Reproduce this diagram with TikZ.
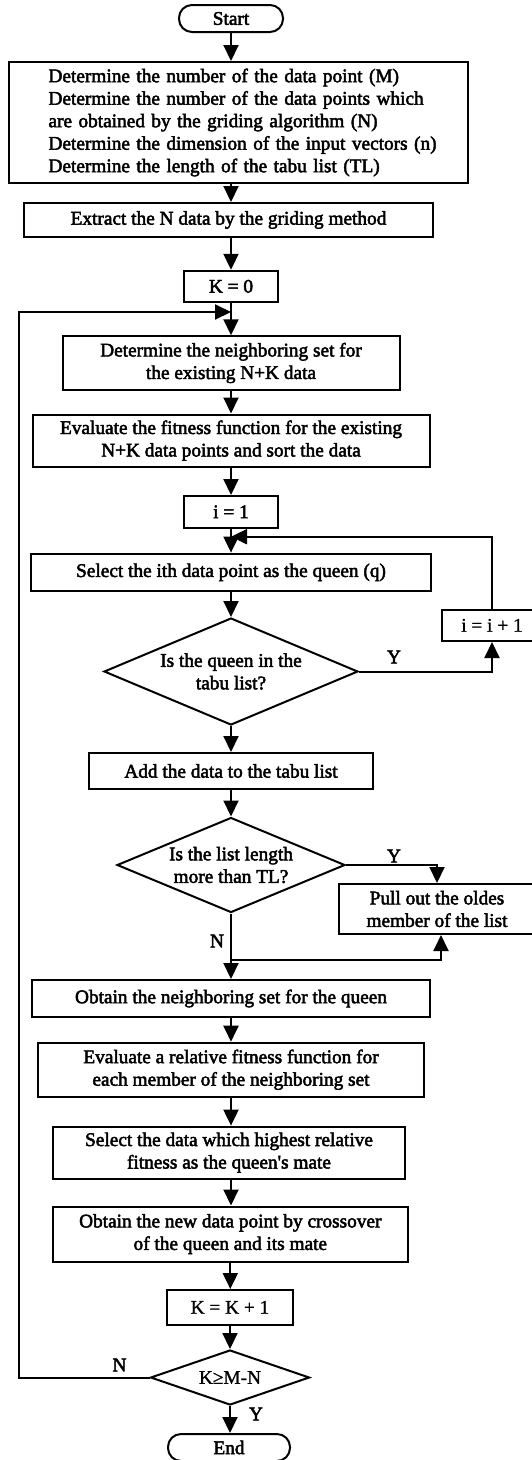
\documentclass[tikz,border=0pt]{standalone}
\usepackage{fontspec}
\setmainfont{Liberation Serif}
\newfontfamily\heavy{Liberation Serif}[FakeBold=2.5]
\newfontfamily\plain{Liberation Serif}[FakeBold=1]
\usetikzlibrary{arrows.meta,shapes.geometric}
\tikzset{
  ln/.style={line width=2pt},
  arr/.style={ln,-{Triangle[length=16pt,width=15pt]}},
  box/.style={draw,line width=2pt,inner sep=0pt,align=center},
  term/.style={box,rounded corners=13pt},
  dia/.style={draw,line width=2pt,diamond,inner sep=0pt,align=center},
  lbl/.style={inner sep=0pt},
}
\begin{document}
\begin{tikzpicture}[x=1pt,y=-1pt,font=\heavy\fontsize{19.3}{22.5}\selectfont]
\useasboundingbox (0,0) rectangle (532,1460);
\clip (0,0) rectangle (532,1460);
\node[term,minimum width=104pt,minimum height=27pt] (start) at (231,18.5) {Start};
\node[box,text width=379pt,inner xsep=40pt,minimum height=121pt,align=left] (b1) at (238,122.5)
 {Determine the number of the data point (M)\\Determine the number of the data points which\\are obtained by the griding algorithm (N)\\\mbox{Determine the dimension of the input vectors (n)}\\Determine the length of the tabu list (TL)};
\node[box,minimum width=409pt,minimum height=34pt] (b2) at (228.5,220) {Extract the N data by the griding method};
\node[box,minimum width=94pt,minimum height=31pt] (k0) at (231,286.3) {K = 0};
\node[box,minimum width=337pt,minimum height=53.5pt] (b3) at (231,363) {Determine the neighboring set for\\the existing N+K data};
\node[box,minimum width=397pt,minimum height=52pt] (b4) at (231,440.5) {Evaluate the fitness function for the existing\\N+K data points and sort the data};
\node[box,minimum width=94pt,minimum height=31.6pt] (i1) at (231,511.8) {i = 1};
\node[box,minimum width=399.5pt,minimum height=37.4pt] (b5) at (231,572.3) {Select the ith data point as the queen (q)};
\node[dia,aspect=2.37,minimum width=254pt,minimum height=107pt] (d1) at (231,671.5) {Is the queen in the\\tabu list?};
\node[box,minimum width=100pt,minimum height=31.4pt,font=\plain\fontsize{19.3}{22.5}\selectfont] (ii) at (492,625.3) {i = i + 1};
\node[box,minimum width=284.6pt,minimum height=36pt] (add) at (231,771) {Add the data to the tabu list};
\node[dia,aspect=2.4,minimum width=228pt,minimum height=95pt] (d2) at (231,865) {Is the list length\\more than TL?};
\node[box,minimum width=197pt,minimum height=50pt] (pull) at (437,909) {Pull out the oldes\\member of the list};
\node[box,minimum width=398.4pt,minimum height=37pt] (obt) at (231,998.5) {Obtain the neighboring set for the queen};
\node[box,minimum width=385.5pt,minimum height=54pt] (evr) at (231,1069.7) {Evaluate a relative fitness function for\\each member of the neighboring set};
\node[box,minimum width=352pt,minimum height=52pt] (sel) at (229,1152.6) {Select the data which highest relative\\fitness as the queen's mate};
\node[box,minimum width=355.4pt,minimum height=55pt] (new) at (230.3,1234) {Obtain the new data point by crossover\\of the queen and its mate};
\node[box,minimum width=125.5pt,minimum height=34.6pt,font=\plain\fontsize{19.3}{22.5}\selectfont] (kk) at (230,1307.3) {K = K + 1};
\node[dia,aspect=2.89,minimum width=159pt,minimum height=55pt,font=\plain\fontsize{19.3}{22.5}\selectfont] (d3) at (230,1377.5) {K≥M-N};
\node[term,minimum width=122pt,minimum height=27pt] (end) at (229,1447.5) {End};
% labels
\node[lbl] (y1) at (394,657) {Y};
\node[lbl] (y2) at (394,856) {Y};
\node[lbl] (n2) at (217,941) {N};
\node[lbl] (n3) at (119.5,1365) {N};
\node[lbl] (y3) at (256,1414) {Y};
% coordinates
\coordinate (j1) at (231,312);
\coordinate (lk) at (18.7,312);
\coordinate (j2) at (231,536.7);
\coordinate (j3) at (231,960);
% main flow
\draw[arr] (start.south) -- (start.south |- b1.north);
\draw[arr] (b1.south -| k0) -- (b2.north -| k0);
\draw[arr] (b2.south -| k0) -- (k0.north);
\draw[arr] (k0.south) -- (b3.north);
\draw[arr] (b3.south) -- (b4.north);
\draw[arr] (b4.south) -- (i1.north);
\draw[arr] (i1.south) -- (b5.north);
\draw[arr] (b5.south) -- (d1.north);
\draw[arr] (d1.south) -- (add.north);
\draw[arr] (add.south) -- (d2.north);
\draw[arr] (d2.south) -- (obt.north);
\draw[arr] (obt.south) -- (evr.north);
\draw[arr] (evr.south) -- (evr.south |- sel.north);
\draw[arr] (sel.south -| evr) -- (new.north -| evr);
\draw[arr] (new.south) -- (new.south |- kk.north);
\draw[arr] (kk.south) -- (kk.south |- d3.north);
\draw[arr] (d3.south) -- (d3.south |- end.north);
% branches and loops
\draw[arr] (d1.east) -| (ii.south);
\draw[arr] (ii.north) |- (j2);
\draw[arr] (d2.east) -| (pull.north);
\draw[arr] (j3) -| ([xshift=4pt]pull.south);
\draw[arr] (d3.west) -| (lk) -- (j1);
\end{tikzpicture}
\end{document}
